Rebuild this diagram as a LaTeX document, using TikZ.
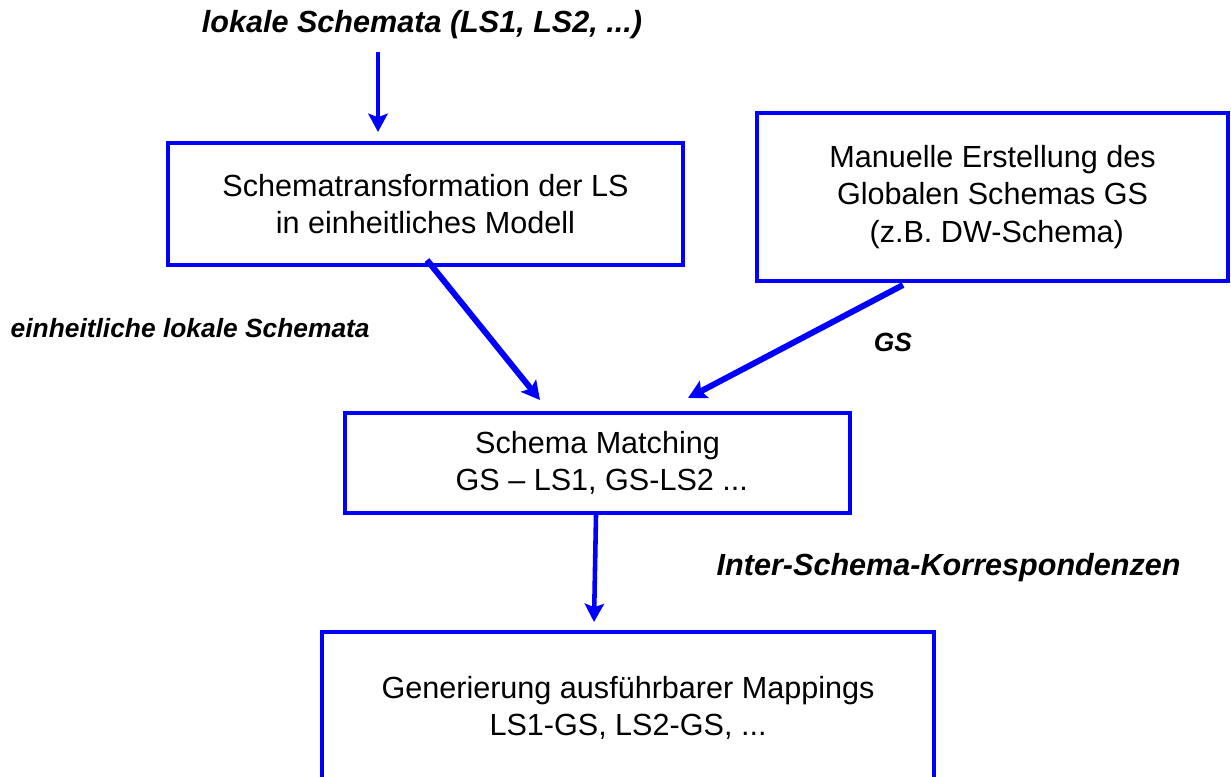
\documentclass[tikz,border=0pt]{standalone}
\usepackage{fontspec}
\setmainfont{Liberation Sans}
\usetikzlibrary{arrows.meta}
\begin{document}
\begin{tikzpicture}[
  box/.style={draw=blue, line width=0.9pt, align=center, font=\fontsize{8.7}{10.6}\selectfont},
  lbl/.style={font=\bfseries\itshape\fontsize{8.7}{10.6}\selectfont},
  smalllbl/.style={font=\bfseries\itshape\fontsize{7.5}{9}\selectfont, inner sep=0pt},
  arr/.style={-{Stealth[length=5.2pt,width=5.5pt,inset=1pt]}, draw=blue, line width=1.3pt},
  diag/.style={arr, line width=1.7pt}
]
\useasboundingbox (0,0) rectangle (12.31,7.76);
\clip (0,0) rectangle (12.31,7.76);

% boxes
\node[box, minimum width=5.15cm, minimum height=1.22cm] (trans) at (4.255,5.72)
  {Schematransformation der LS\\in einheitliches Modell};
\node[box, minimum width=4.71cm, minimum height=1.68cm] (global) at (9.925,5.79)
  {Manuelle Erstellung des\\Globalen Schemas GS\\\mbox{} (z.B. DW-Schema)};
\node[box, minimum width=5.05cm, minimum height=1.0cm] (match) at (5.975,3.13)
  {Schema Matching\\\mbox{} GS – LS1, GS-LS2 ...};
\node[box, minimum width=6.12cm, minimum height=1.52cm] (mapping) at (6.28,0.68)
  {Generierung ausführbarer Mappings\\LS1-GS, LS2-GS, ...};

% labels
\node[lbl] (title) at (4.22,7.51) {lokale Schemata (LS1, LS2, ...)};
\node[smalllbl, anchor=west] (einh) at (0.10,4.48) {einheitliche lokale Schemata};
\node[smalllbl] (gs) at (8.93,4.34) {GS};
\node[lbl, inner sep=0pt, anchor=west] (korr) at (7.16,2.08) {Inter-Schema-Korrespondenzen};

% arrow ends
\coordinate (ls-end) at (3.78,6.44);
\coordinate (trans-out) at (4.27,5.16);
\coordinate (match-in1) at (5.40,3.76);
\coordinate (global-out) at (9.03,4.91);
\coordinate (match-in2) at (6.88,3.78);
\coordinate (match-out) at (5.96,2.61);
\coordinate (mapping-in) at (5.94,1.54);

\draw[arr] (title.south -| ls-end) -- (ls-end);
\draw[diag] (trans-out) -- (match-in1);
\draw[diag] (global-out) -- (match-in2);
\draw[arr] (match-out) -- (mapping-in);
\end{tikzpicture}
\end{document}
